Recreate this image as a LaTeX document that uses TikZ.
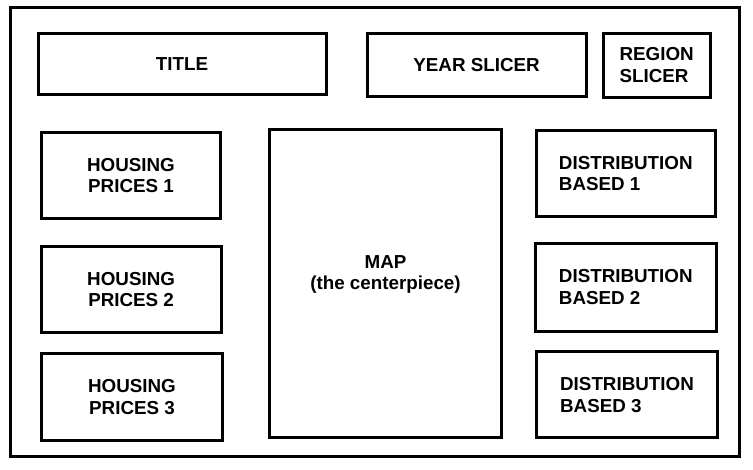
\documentclass[tikz,border=0pt]{standalone}
\usepackage{fontspec}
\setmainfont{Liberation Sans}

\begin{document}
\begin{tikzpicture}[x=1pt, y=-1pt,
    panel/.style={draw, line width=3pt, rectangle, align=center, inner sep=0pt, outer sep=0pt},
    caption/.style={font=\fontsize{18.8}{21.8}\selectfont\bfseries}]
    \useasboundingbox (0,0) rectangle (753,469);

    \node (frame) [panel, minimum width=728.3pt, minimum height=448.4pt] at (374.85, 232) {};

    \node (title) [panel, caption, minimum width=288.2pt, minimum height=61.6pt] at (182.1, 64) {TITLE};
    \node (year) [panel, caption, minimum width=219pt, minimum height=63pt] at (476.6, 64.8) {YEAR SLICER};
    \node (region) [panel, caption, align=left, minimum width=106.7pt, minimum height=64.2pt] at (656.7, 65.4) {REGION\\SLICER};

    \node (price1) [panel, caption, minimum width=179.4pt, minimum height=86.6pt] at (131, 175.5) {HOUSING\\PRICES 1};
    \node (price2) [panel, caption, minimum width=179.8pt, minimum height=86.6pt] at (131.1, 289.5) {HOUSING\\PRICES 2};
    \node (price3) [panel, caption, minimum width=180.4pt, minimum height=87pt] at (132, 397) {HOUSING\\PRICES 3};

    \node (map) [panel, minimum width=232pt, minimum height=308pt] at (385.5, 283.8) {};
    \node (maptext) [caption, align=center] at (385.5, 274.5) {MAP\\(the centerpiece)};

    \node (dist1) [panel, caption, align=left, minimum width=179.3pt, minimum height=86pt] at (625.8, 173.5) {DISTRIBUTION\\BASED 1};
    \node (dist2) [panel, caption, align=left, minimum width=180.7pt, minimum height=87.7pt] at (625.8, 287.3) {DISTRIBUTION\\BASED 2};
    \node (dist3) [panel, caption, align=left, minimum width=180.4pt, minimum height=86pt] at (627, 394.8) {DISTRIBUTION\\BASED 3};
\end{tikzpicture}
\end{document}
